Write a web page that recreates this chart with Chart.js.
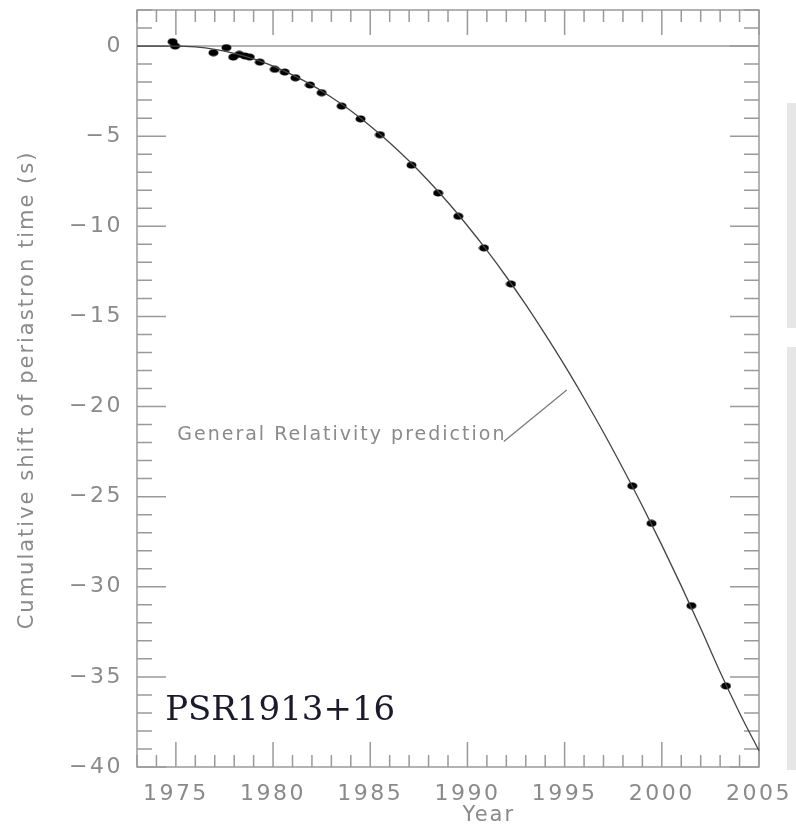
<!DOCTYPE html>
<html>
<head>
<meta charset="utf-8">
<script src="https://cdn.jsdelivr.net/npm/chart.js@4/dist/chart.umd.min.js"></script>
<style>
  body { margin: 0; background: #fff; }
  #wrap { position: relative; width: 796px; height: 828px; }
  .side { position: absolute; left: 787px; width: 9px; background: #e6e6e6; }
</style>
</head>
<body>
<div id="wrap">
  <div class="side" style="top:103px;height:225px"></div>
  <div class="side" style="top:347px;height:423px"></div>
  <canvas id="psrChart" width="796" height="828" style="position:absolute;left:0;top:0"></canvas>
</div>
<script>
var obsYears  = [1974.83, 1974.96, 1976.93, 1977.6, 1977.95, 1978.26, 1978.55, 1978.8, 1979.32,
                 1980.09, 1980.6, 1981.15, 1981.9, 1982.5, 1983.53, 1984.5, 1985.5, 1987.12,
                 1988.49, 1989.53, 1990.85, 1992.24, 1998.48, 1999.47, 2001.52, 2003.3];
var obsShift  = [0.24, 0, -0.37, -0.09, -0.61, -0.46, -0.55, -0.61, -0.89,
                 -1.29, -1.44, -1.76, -2.16, -2.59, -3.33, -4.04, -4.92, -6.61,
                 -8.15, -9.44, -11.2, -13.2, -24.4, -26.48, -31.05, -35.5];

// general relativity curve
var grYears = [1973, 1974, 1975, 1976, 1977, 1978, 1979, 1980, 1981, 1982, 1983, 1984, 1985,
               1986, 1987, 1988, 1989, 1990, 1991, 1992, 1993, 1994, 1995, 1996, 1997, 1998,
               1999, 2000, 2001, 2002, 2003, 2004, 2005];
var grShift = [0, 0, 0, -0.05, -0.18, -0.4, -0.71, -1.11, -1.6, -2.17, -2.84, -3.59, -4.43,
               -5.36, -6.38, -7.49, -8.68, -9.97, -11.34, -12.8, -14.35, -16.0, -17.72, -19.54, -21.44, -23.44,
               -25.52, -27.69, -29.95, -32.3, -34.73, -37.0, -39.1];

var xTicks = [1975, 1980, 1985, 1990, 1995, 2000, 2005];
var yTicks = [-40, -35, -30, -25, -20, -15, -10, -5, 0];

var grey = '#8a8a8a';

// flattened blob marker
var dot = document.createElement('canvas');
dot.width = 11; dot.height = 8;
(function () {
  var c = dot.getContext('2d');
  c.fillStyle = '#000';
  c.beginPath();
  c.ellipse(5.5, 4, 5, 3.6, 0, 0, Math.PI * 2);
  c.fill();
})();

var frame = {
  id: 'frame',
  beforeUpdate: function (chart) {
    chart.ctx.letterSpacing = '2.5px';
  },
  beforeDatasetsDraw: function (chart) {
    var ctx = chart.ctx, a = chart.chartArea;
    var xs = chart.scales.x, ys = chart.scales.y;
    ctx.save();
    ctx.strokeStyle = '#9a9a9a';
    ctx.lineWidth = 1.5;
    // zero line
    var y0 = ys.getPixelForValue(0);
    ctx.beginPath(); ctx.moveTo(a.left, y0); ctx.lineTo(a.right, y0); ctx.stroke();
    // ticks pointing inwards
    ctx.beginPath();
    for (var yr = 1973; yr <= 2005; yr++) {
      var px = xs.getPixelForValue(yr);
      var len = yr % 5 === 0 ? 25 : 12;
      ctx.moveTo(px, a.bottom); ctx.lineTo(px, a.bottom - len);
      ctx.moveTo(px, a.top); ctx.lineTo(px, a.top + len);
    }
    for (var v = -40; v <= 2; v++) {
      var py = ys.getPixelForValue(v);
      var l2 = v % 5 === 0 ? 29 : 15;
      ctx.moveTo(a.left, py); ctx.lineTo(a.left + l2, py);
      ctx.moveTo(a.right, py); ctx.lineTo(a.right - l2, py);
    }
    ctx.stroke();
    ctx.strokeRect(a.left, a.top, a.right - a.left, a.bottom - a.top);
    ctx.restore();
  },
  afterDraw: function (chart) {
    var ctx = chart.ctx, a = chart.chartArea;
    var xs = chart.scales.x, ys = chart.scales.y;
    ctx.save();
    ctx.letterSpacing = '2px';
    ctx.fillStyle = grey;
    ctx.font = '21px "DejaVu Sans"';
    ctx.textAlign = 'center';
    ctx.textBaseline = 'middle';
    // axis titles
    ctx.fillText('Year', xs.getPixelForValue(1991.1), 816);
    ctx.save();
    ctx.translate(28, 390);
    ctx.rotate(-Math.PI / 2);
    ctx.fillText('Cumulative shift of periastron time (s)', 0, 0);
    ctx.restore();
    // annotation
    ctx.font = '19px "DejaVu Sans"';
    ctx.textAlign = 'left';
    ctx.fillText('General Relativity prediction', xs.getPixelForValue(1975.07), ys.getPixelForValue(-21.6));
    ctx.strokeStyle = '#777';
    ctx.lineWidth = 1.2;
    ctx.beginPath();
    ctx.moveTo(xs.getPixelForValue(1991.87), ys.getPixelForValue(-21.94));
    ctx.lineTo(xs.getPixelForValue(1995.11), ys.getPixelForValue(-19.08));
    ctx.stroke();
    // pulsar name
    ctx.letterSpacing = '0px';
    ctx.fillStyle = '#1a1a2a';
    ctx.font = '34px "DejaVu Serif"';
    ctx.textBaseline = 'alphabetic';
    ctx.fillText('PSR1913+16', xs.getPixelForValue(1974.45), ys.getPixelForValue(-37.4));
    ctx.restore();
  }
};

var ctx = document.getElementById('psrChart').getContext('2d');
var psrChart = new Chart(ctx, {
  type: 'scatter',
  data: {
    datasets: [{
      label: 'GR',
      data: grYears.map(function (x, i) { return { x: x, y: grShift[i] }; }),
      showLine: true,
      borderColor: '#444',
      borderWidth: 1.3,
      pointRadius: 0,
      cubicInterpolationMode: 'monotone',
      clip: false
    }, {
      label: 'Observed',
      data: obsYears.map(function (x, i) { return { x: x, y: obsShift[i] }; }),
      pointStyle: dot,
      pointRadius: 5
    }]
  },
  options: {
    responsive: false,
    animation: false,
    layout: { padding: { top: 10, right: 37, left: 0, bottom: 0 } },
    plugins: { legend: { display: false }, tooltip: { enabled: false } },
    scales: {
      x: {
        type: 'linear', min: 1973, max: 2005,
        grid: { display: false, drawTicks: false },
        border: { display: false },
        afterBuildTicks: function (s) { s.ticks = xTicks.map(function (v) { return { value: v }; }); },
        afterFit: function (s) { s.height = 61; s.paddingLeft = 0; s.paddingRight = 0; },
        ticks: {
          color: grey, padding: 14, maxRotation: 0, minRotation: 0, autoSkip: false,
          font: { family: 'DejaVu Sans', size: 22 },
          callback: function (v) { return String(v); }
        }
      },
      y: {
        type: 'linear', min: -40, max: 2,
        grid: { display: false, drawTicks: false },
        border: { display: false },
        afterBuildTicks: function (s) { s.ticks = yTicks.map(function (v) { return { value: v }; }); },
        afterFit: function (s) { s.width = 137; s.paddingTop = 0; s.paddingBottom = 0; },
        ticks: {
          color: grey, padding: 14, autoSkip: false,
          font: { family: 'DejaVu Sans', size: 22 },
          callback: function (v) { return v === 0 ? '0' : '\u2212' + Math.abs(v); }
        }
      }
    }
  },
  plugins: [frame]
});
</script>
</body>
</html>
